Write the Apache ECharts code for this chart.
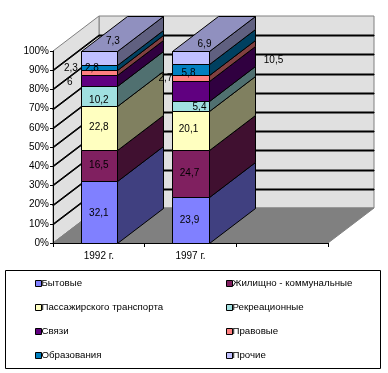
<!DOCTYPE html>
<html>
<head>
<meta charset="utf-8">
<style>
  html, body { margin: 0; padding: 0; background: #ffffff; }
  #chart { width: 388px; height: 373px; }
</style>
<script src="https://cdn.jsdelivr.net/npm/echarts@6/dist/echarts.min.js"></script>
</head>
<body>
<div id="chart"></div>
<script>
const categories = ['1992 г.', '1997 г.', '']
const seriesNames = ['Бытовые', 'Жилищно - коммунальные', 'Пассажирского транспорта', 'Рекреационные', 'Связи', 'Правовые', 'Образования', 'Прочие']
const values1992 = [32.1, 16.5, 22.8, 10.2, 6, 2.3, 2.8, 7.3]
const values1997 = [23.9, 24.7, 20.1, 5.4, 10.5, 2.7, 5.8, 6.9]
const yTicks = [10, 20, 30, 40, 50, 60, 70, 80, 90]

const colors = ['#8080ff', '#802060', '#ffffc0', '#a0e0e0', '#600080', '#ff8080', '#0080c0', '#c0c0ff']

// сдвиг подписей относительно середины сегмента, в пикселях
const labelShift1992 = [[0, 1], [0, 0], [0, -1], [0, 4], [-29, 2], [-28, -4], [-7, 1], [14, -17]]
const labelShift1997 = [[-1, 0], [-1, 0], [-2, -1], [9, 1], [83, -30], [-25, 0], [-2, 3], [14, -13]]

const FONT = '"Liberation Sans", Arial, sans-serif'
const DEPTH_X = 46
const DEPTH_Y = -35
const BAR_RATIO = 0.4

function stackColumn(values) {
  // колонка нормирована на 100%, как в исходной диаграмме
  const total = values.reduce((a, b) => a + b, 0)
  let sum = 0
  return values.map(v => {
    const from = sum / total * 100
    sum += v
    return [from, sum / total * 100, v]
  })
}

const stack1992 = stackColumn(values1992)
const stack1997 = stackColumn(values1997)

function darker(color, k) {
  return echarts.color.lerp(k, [color, '#000000'])
}

function poly(points, fill, stroke) {
  return {
    type: 'polygon',
    shape: {points: points},
    style: {fill: fill, stroke: stroke, lineWidth: 1}
  }
}

// стенки и пол
function renderWalls(params, api) {
  const left = Math.round(api.coord([0, 0])[0] - api.size([1, 0])[0] / 2)
  const right = left + Math.round(api.size([1, 0])[0] * categories.length)
  const bottom = Math.round(api.coord([0, 0])[1])
  const top = Math.round(api.coord([0, 100])[1])
  const wallColor = '#e0e0e0'
  const edge = '#808080'
  return {
    type: 'group',
    children: [
      poly([[left + DEPTH_X, top + DEPTH_Y], [right + DEPTH_X, top + DEPTH_Y], [right + DEPTH_X, bottom + DEPTH_Y], [left + DEPTH_X, bottom + DEPTH_Y]], wallColor, edge),
      poly([[left, top], [left + DEPTH_X, top + DEPTH_Y], [left + DEPTH_X, bottom + DEPTH_Y], [left, bottom]], wallColor, edge),
      poly([[left, bottom], [right, bottom], [right + DEPTH_X, bottom + DEPTH_Y], [left + DEPTH_X, bottom + DEPTH_Y]], '#808080', '#808080')
    ]
  }
}

// линии сетки: тонкие залитые полосы по левой и задней стенкам
function renderGridLine(params, api) {
  const left = Math.round(api.coord([0, 0])[0] - api.size([1, 0])[0] / 2)
  const right = left + Math.round(api.size([1, 0])[0] * categories.length)
  const y = Math.round(api.coord([0, api.value(1)])[1])
  return {
    type: 'group',
    children: [
      poly([[left, y], [left + DEPTH_X, y + DEPTH_Y], [left + DEPTH_X, y + DEPTH_Y + 1], [left, y + 1]], '#000000', '#000000'),
      poly([[left + DEPTH_X, y + DEPTH_Y], [right + DEPTH_X, y + DEPTH_Y], [right + DEPTH_X, y + DEPTH_Y + 1], [left + DEPTH_X, y + DEPTH_Y + 1]], '#000000', '#000000')
    ]
  }
}

function renderSegment(params, api) {
  const cat = api.value(0)
  const low = api.coord([cat, api.value(1)])
  const high = api.coord([cat, api.value(2)])
  const width = api.size([1, 0])[0] * BAR_RATIO
  const x0 = Math.round(low[0] - width / 2) + 0.5
  const x1 = Math.round(low[0] + width / 2) + 0.5
  const y0 = Math.round(low[1]) + 0.5
  const y1 = Math.round(high[1]) + 0.5
  const color = api.visual('color')
  const children = [
    poly([[x1, y0], [x1 + DEPTH_X, y0 + DEPTH_Y], [x1 + DEPTH_X, y1 + DEPTH_Y], [x1, y1]], darker(color, 0.5), '#000000'),
    poly([[x0, y0], [x1, y0], [x1, y1], [x0, y1]], color, '#000000')
  ]
  if (params.seriesName === seriesNames[seriesNames.length - 1]) {
    children.push(poly([[x0, y1], [x1, y1], [x1 + DEPTH_X, y1 + DEPTH_Y], [x0 + DEPTH_X, y1 + DEPTH_Y]], darker(color, 0.25), '#000000'))
  }
  return {type: 'group', children: children}
}

function renderLabel(params, api) {
  const pos = api.coord([api.value(0), api.value(1)])
  return {
    type: 'text',
    x: pos[0] + api.value(3),
    y: pos[1] + api.value(4),
    style: {
      text: String(api.value(2)).replace('.', ','),
      fill: '#000000',
      font: '10px ' + FONT,
      align: 'center',
      verticalAlign: 'middle'
    }
  }
}

const barSeries = seriesNames.map((name, i) => ({
  name: name,
  type: 'custom',
  z: 3,
  silent: true,
  itemStyle: {color: colors[i]},
  renderItem: renderSegment,
  data: [
    [0, stack1992[i][0], stack1992[i][1]],
    [1, stack1997[i][0], stack1997[i][1]]
  ]
}))

const labelData = []
seriesNames.forEach((name, i) => {
  labelData.push([0, (stack1992[i][0] + stack1992[i][1]) / 2, values1992[i], labelShift1992[i][0], labelShift1992[i][1]])
  labelData.push([1, (stack1997[i][0] + stack1997[i][1]) / 2, values1997[i], labelShift1997[i][0], labelShift1997[i][1]])
})

const legendBase = {
  orient: 'vertical',
  top: 273,
  itemWidth: 6,
  itemHeight: 6,
  itemGap: 13,
  selectedMode: false,
  icon: 'rect',
  itemStyle: {borderColor: '#000000', borderWidth: 1},
  textStyle: {color: '#000000', fontFamily: FONT, fontSize: 9.7, padding: [0, 0, 0, -5], lineHeight: 11}
}

const chart = echarts.init(document.getElementById('chart'))

chart.setOption({
  animation: false,
  backgroundColor: '#ffffff',
  grid: {left: 53, right: 60, top: 51, bottom: 130},
  xAxis: {
    type: 'category',
    data: categories,
    z: 2,
    axisLine: {lineStyle: {color: '#000000'}},
    axisTick: {show: true, alignWithLabel: false, length: 4, lineStyle: {color: '#000000'}},
    axisLabel: {color: '#000000', fontFamily: FONT, fontSize: 10, margin: 8, interval: 0}
  },
  yAxis: {
    type: 'value',
    min: 0,
    max: 100,
    interval: 10,
    z: 2,
    splitLine: {show: false},
    axisLine: {show: true, lineStyle: {color: '#000000'}},
    axisTick: {show: true, length: 3, lineStyle: {color: '#000000'}},
    axisLabel: {color: '#000000', fontFamily: FONT, fontSize: 10, margin: 4, formatter: '{value}%'}
  },
  legend: [
    Object.assign({}, legendBase, {left: 30, data: seriesNames.filter((n, i) => i % 2 === 0)}),
    Object.assign({}, legendBase, {left: 221, data: seriesNames.filter((n, i) => i % 2 === 1)})
  ],
  graphic: [{
    type: 'rect',
    shape: {x: 5.5, y: 270.5, width: 375, height: 98},
    style: {fill: 'none', stroke: '#000000', lineWidth: 1},
    silent: true
  }],
  series: [
    {type: 'custom', name: 'walls', z: 0, silent: true, renderItem: renderWalls, data: [[0, 0, 0]]},
    {type: 'custom', name: 'gridLines', z: 2, silent: true, renderItem: renderGridLine, data: yTicks.map(v => [0, v, v])}
  ].concat(barSeries).concat([
    {type: 'custom', name: 'labels', z: 4, silent: true, renderItem: renderLabel, data: labelData}
  ])
})
</script>
</body>
</html>
